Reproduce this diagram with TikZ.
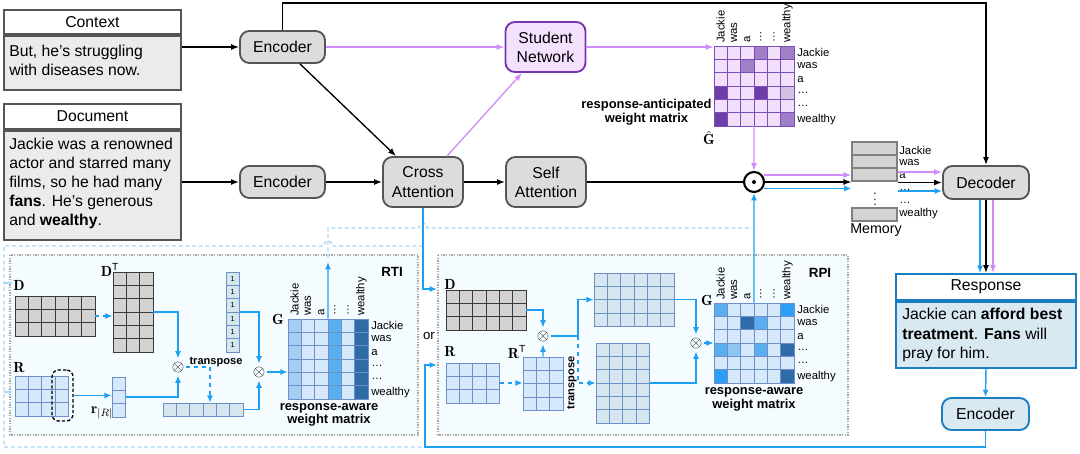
\documentclass[tikz,border=0pt]{standalone}
\usepackage{fontspec}
\setsansfont{Liberation Sans}
\renewcommand{\familydefault}{\sfdefault}
\usetikzlibrary{arrows.meta,calc,fit}
\definecolor{gfill}{HTML}{DCDCDC}
\definecolor{gline}{HTML}{555555}
\definecolor{bodyg}{HTML}{EBEBEB}
\definecolor{pline}{HTML}{D08CFA}
\definecolor{pfill}{HTML}{F3E1FD}
\definecolor{pdark}{HTML}{7437B0}
\definecolor{bline}{HTML}{1EA0F2}
\definecolor{bdash}{HTML}{A5D6F8}
\definecolor{rborder}{HTML}{1B7DC2}
\definecolor{rfill}{HTML}{D9E9F2}
\definecolor{boxbg}{HTML}{F5FCFF}
\definecolor{cellL}{HTML}{D5E9FB}
\definecolor{cellLd}{HTML}{6F8FC8}
\definecolor{cellBG}{HTML}{D6E6EF}
\definecolor{gcell}{HTML}{D3D3D3}
\definecolor{gcelld}{HTML}{3A3A3A}
\definecolor{memf}{HTML}{D4D4D4}
\definecolor{bM}{HTML}{5AAEF0}
\definecolor{bC}{HTML}{A3CDF2}
\definecolor{bD}{HTML}{2F6BA6}
\definecolor{bB}{HTML}{2B9FF5}
\definecolor{bMtwo}{HTML}{8DC6F2}
\definecolor{puL}{HTML}{F2DFFC}
\definecolor{puM}{HTML}{A07FC8}
\definecolor{puD}{HTML}{6C3EA6}
\definecolor{puG}{HTML}{D2C3E3}
\definecolor{puE}{HTML}{7A4DB8}
\def\cs{13.33}
\newcommand{\mat}[7]{%
  \foreach \ii in {1,...,#4}{\foreach \jj in {1,...,#5}{%
    \draw[#7] ({#2+(\ii-1)*\cs},{#3+(\jj-1)*#6}) rectangle ++(\cs,#6);}}%
  \coordinate (#1-a) at (#2,#3);%
  \coordinate (#1-b) at ({#2+#4*\cs},{#3+#5*#6});%
  \node[fit=(#1-a)(#1-b),inner sep=0pt] (#1) {};}
\newcommand{\cel}[5]{\draw[#5] ({#1+(#3-1)*\cs},{#2+(#4-1)*\cs}) rectangle ++(\cs,\cs);}
\begin{document}
\begin{tikzpicture}[x=0.75pt,y=-0.75pt,
  font=\fontsize{11.8}{14.4}\selectfont,
  gbox/.style={draw=gline,fill=gfill,line width=1.4pt,rounded corners=7pt,align=center,inner sep=0pt},
  hdr/.style={draw=gline,fill=white,line width=1.4pt,inner sep=0pt},
  bodyb/.style={draw=gline,fill=bodyg,line width=1.4pt,inner sep=0pt},
  txt/.style={anchor=west,align=left,inner sep=0pt},
  karrow/.style={draw=black,line width=1pt,-{Latex[length=6pt,width=4.5pt]}},
  parrow/.style={draw=pline,line width=1pt,-{Latex[length=6pt,width=4.5pt]}},
  barrow/.style={draw=bline,line width=1.1pt,-{Latex[length=5.5pt,width=4.5pt]}},
  dl/.style={draw=bdash,line width=1pt,dash pattern=on 3pt off 2pt},
  lbl/.style={font=\fontsize{8.5}{10}\selectfont,inner sep=0pt},
  bl/.style={font=\fontsize{9.7}{10.3}\selectfont\bfseries,inner sep=0pt,align=center},
  serif/.style={font=\fontsize{11}{13}\selectfont,inner sep=0pt},
  ot/.style={circle,inner sep=0pt,minimum size=9pt,font=\fontsize{13}{14}\selectfont},
  gc/.style={fill=gcell,draw=gcelld,line width=0.6pt},
  lc/.style={fill=cellL,draw=cellLd,line width=0.6pt},
  bc/.style={fill=cellBG,draw=cellLd,line width=0.6pt},
  pc/.style={fill=puL,draw=puE,line width=0.7pt},
  mcell/.style={draw=gray,fill=memf,minimum width=33.75pt,minimum height=9.75pt,inner sep=0pt,line width=0.8pt}
]
\useasboundingbox (0,0) rectangle (1080,453);

% containers
\path[draw=gray!70,fill=boxbg,line width=0.9pt,dash pattern=on 1pt off 1pt] (10,255) rectangle (418,435);
\path[draw=gray!70,fill=boxbg,line width=0.9pt,dash pattern=on 1pt off 1pt] (438,255) rectangle (848,435);
\node[bl,font=\fontsize{10}{12}\selectfont\bfseries] (rtit) at (392,272) {RTI};
\node[bl,font=\fontsize{10}{12}\selectfont\bfseries] (rpit) at (820,273) {RPI};

% dashed alternative routes
\draw[dl] (328,258) -- (328,228) -- (419,228) .. controls (419,221) and (427,221) .. (427,228) -- (752,228);
\draw[dl] (423,246) -- (332,246) .. controls (332,239) and (324,239) .. (324,246) -- (4,246) -- (4,447) -- (423,447);
\draw[dl,-{Latex[length=3.5pt,width=3pt]}] (4,283) -- (13,283);
\draw[dl,-{Latex[length=3.5pt,width=3pt]}] (4,392) -- (13,392);

% Context / Document
\node[hdr,minimum width=132.75pt,minimum height=18pt] (ctxh) at (92.5,22) {Context};
\node[bodyb,minimum width=132.75pt,minimum height=40.5pt,anchor=north] (ctxb) at (ctxh.south) {};
\node[txt] (ctxt) at (9,60.5) {But, he’s struggling\\with diseases now.};
\node[hdr,minimum width=132.75pt,minimum height=18.75pt] (doch) at (92.5,116.5) {Document};
\node[bodyb,minimum width=132.75pt,minimum height=81.75pt,anchor=north] (docb) at (doch.south) {};
\node[txt] (doct) at (9,183.5) {Jackie was a renowned\\actor and starred many\\films, so he had many\\\textbf{fans}. He’s generous\\and \textbf{wealthy}.};

% main nodes
\node[gbox,minimum width=63.75pt,minimum height=24pt] (enc1) at (282.5,47) {Encoder};
\node[gbox,minimum width=63.75pt,minimum height=24pt] (enc2) at (282.5,182) {Encoder};
\node[gbox,draw=pdark,fill=pfill,minimum width=60pt,minimum height=37.5pt] (student) at (545.5,47) {Student\\Network};
\node[gbox,minimum width=60pt,minimum height=37.5pt] (cross) at (423,182) {Cross\\Attention};
\node[gbox,minimum width=60pt,minimum height=37.5pt] (self) at (546,182) {Self\\Attention};
\node[gbox,minimum width=64.5pt,minimum height=24.75pt] (dec) at (986,182.5) {Decoder};
\node[circle,draw,line width=1.6pt,minimum size=15pt,inner sep=0pt] (odot) at (754,182) {};
\fill (odot.center) circle (1.5pt);

% Response
\node[hdr,draw=rborder,minimum width=135pt,minimum height=19.5pt] (resph) at (986,287) {Response};
\node[bodyb,draw=rborder,fill=rfill,minimum width=135pt,minimum height=49.5pt,anchor=north] (respb) at (resph.south) {};
\node[txt] (respt) at (902,335) {Jackie can \textbf{afford best}\\\textbf{treatment}. \textbf{Fans} will\\pray for him.};
\node[gbox,draw=rborder,fill=rfill,minimum width=65.25pt,minimum height=24pt] (enc3) at (985.5,414) {Encoder};

% Memory
\node[mcell] (m1) at (874.5,148.5) {};
\node[mcell] (m2) at (874.5,161.5) {};
\node[mcell] (m3) at (874.5,174.5) {};
\node[mcell] (m4) at (874.5,214.5) {};
\node[inner sep=0pt,font=\fontsize{9}{10}\selectfont] (mdots) at (875,195.5) {$\vdots$};
\node[inner sep=0pt,font=\fontsize{10.7}{12}\selectfont] (memt) at (876,230) {Memory};
\foreach \t/\yy in {Jackie/150,was/163,a/176,…/190,…/203,wealthy/214}
  \node[lbl,anchor=west] at (899,\yy) {\t};

% purple matrix G-hat
\mat{pG}{714}{46}{6}{6}{13.33}{pc}
\cel{714}{46}{4}{1}{pc,fill=puM}\cel{714}{46}{6}{1}{pc,fill=puM}
\cel{714}{46}{3}{2}{pc,fill=puM}
\cel{714}{46}{1}{4}{pc,fill=puD}\cel{714}{46}{4}{4}{pc,fill=puD}\cel{714}{46}{6}{4}{pc,fill=puG}
\cel{714}{46}{1}{6}{pc,fill=puD}\cel{714}{46}{6}{6}{pc,fill=puM}
\foreach \t [count=\k] in {Jackie,was,a,…,…,wealthy}{
  \node[lbl,rotate=90,anchor=west] at ({714+(\k-0.5)*\cs},43) {\t};
  \node[lbl,anchor=west] at (797,{46+(\k-0.5)*\cs}) {\t};}
\node[serif] (ghat) at (709,138) {$\hat{\mathbf{G}}$};
\node[bl] (pgt) at (646.5,112) {response-anticipated\\weight matrix};

% RTI matrices
\mat{rtiD}{15}{296}{6}{3}{13.33}{gc}
\mat{rtiDT}{113}{272}{3}{6}{13.33}{gc}
\mat{rtiR}{15}{376}{4}{3}{13.33}{lc}
\mat{rtir}{112}{377}{1}{3}{13.33}{lc}
\mat{ones}{226}{272}{1}{6}{13.33}{bc}
\foreach \k in {1,...,6} \node[font=\fontsize{5.5}{6}\selectfont,inner sep=0pt] at ({226+\cs/2},{272+(\k-0.5)*\cs}) {1};
\mat{rtirow}{163}{403}{6}{1}{13.33}{bc}
\mat{rtiG}{288}{319}{6}{6}{13.33}{lc}
\foreach \jj in {1,...,6}{\cel{288}{319}{1}{\jj}{lc,fill=bC}\cel{288}{319}{4}{\jj}{lc,fill=bM}\cel{288}{319}{6}{\jj}{lc,fill=bD}}
\foreach \t [count=\k] in {Jackie,was,a,…,…,wealthy}{
  \node[lbl,rotate=90,anchor=west] at ({288+(\k-0.5)*\cs},316) {\t};
  \node[lbl,anchor=west] at (371,{319+(\k-0.5)*\cs}) {\t};}
\node[draw,line width=1pt,dash pattern=on 2.5pt off 1.5pt,rounded corners=5pt,minimum width=15.75pt,minimum height=38.25pt,inner sep=0pt] (sel) at (62.5,395.5) {};
\node[serif] (lD1) at (19,285) {$\mathbf{D}$};
\node[serif] (lDT) at (110,270) {$\mathbf{D}^{\mathsf{T}}$};
\node[serif] (lR1) at (19,368) {$\mathbf{R}$};
\node[serif] (lr) at (102,413) {$\mathbf{r}_{|R|}$};
\node[serif] (lG1) at (278,319) {$\mathbf{G}$};
\node[bl] (rtiwm) at (329,415) {response-aware\\weight matrix};
\node[bl,font=\fontsize{8.3}{10}\selectfont\bfseries] (tr1) at (216,362) {transpose};
\node[ot] (ot1) at (178,367) {$\otimes$};
\node[ot] (ot2) at (259,372) {$\otimes$};
\coordinate (rtiup) at (328,262);

% RTI connectors
\draw[barrow,dashed] (rtiD.east) -- (rtiD.east -| rtiDT.west);
\draw[barrow] (rtiDT.east) -| (ot1.north);
\draw[barrow] (sel.east) -- (sel.east -| rtir.west);
\draw[barrow] (rtir.east) -| (ot1.south);
\draw[barrow,dashed] (ot1.east) -| ($(rtirow.north)+(7,0)$);
\draw[barrow] (ones.east) -| (ot2.north);
\draw[barrow] (rtirow.east) -| (ot2.south);
\draw[barrow] (ot2.east) -- (ot2.east -| rtiG.west);
\draw[barrow] (rtiG.north) -- (rtiup);

% RPI matrices
\mat{rpiD}{446}{290}{6}{3}{13.33}{gc}
\mat{rpiR}{446}{363}{4}{3}{13.33}{lc}
\mat{rpiRT}{523}{357}{3}{4}{13.33}{lc}
\mat{rpiU}{594}{273}{6}{4}{13.33}{bc}
\mat{rpiL}{596}{343}{4}{6}{13.33}{bc}
\mat{rpiG}{714}{303}{6}{6}{13.33}{lc}
\cel{714}{303}{1}{1}{lc,fill=bM}\cel{714}{303}{6}{1}{lc,fill=bB}
\cel{714}{303}{3}{2}{lc,fill=bD}\cel{714}{303}{4}{2}{lc,fill=bM}
\cel{714}{303}{1}{4}{lc,fill=bM}\cel{714}{303}{2}{4}{lc,fill=bMtwo}\cel{714}{303}{4}{4}{lc,fill=bM}\cel{714}{303}{6}{4}{lc,fill=bD}
\cel{714}{303}{1}{6}{lc,fill=bB}\cel{714}{303}{6}{6}{lc,fill=bD}
\foreach \t [count=\k] in {Jackie,was,a,…,…,wealthy}{
  \node[lbl,rotate=90,anchor=west] at ({714+(\k-0.5)*\cs},300) {\t};
  \node[lbl,anchor=west] at (797,{303+(\k-0.5)*\cs}) {\t};}
\node[serif] (lD2) at (450,284) {$\mathbf{D}$};
\node[serif] (lR2) at (450,352) {$\mathbf{R}$};
\node[serif] (lRT) at (517,352) {$\mathbf{R}^{\mathsf{T}}$};
\node[serif] (lG2) at (707,300) {$\mathbf{G}$};
\node[bl] (rpiwm) at (754,399.5) {response-aware\\weight matrix};
\node[bl,font=\fontsize{8.3}{10}\selectfont\bfseries,rotate=90] (tr2) at (572,383) {transpose};
\node[ot] (ot3) at (543,336) {$\otimes$};
\node[ot] (ot4) at (696,343) {$\otimes$};
\coordinate (split) at (578,336);
\node[inner sep=0pt,font=\fontsize{10}{12}\selectfont] (ortxt) at (429,336) {or};

% RPI connectors
\draw[barrow] (rpiD.east) -| (ot3.north);
\draw[barrow] (rpiRT.north) -- (ot3.south);
\draw[barrow,dashed] (rpiR.east) -- (rpiR.east -| rpiRT.west);
\draw[barrow] (ot3.east) -- (split) |- (rpiU.west);
\draw[barrow,dashed] (split) |- (rpiL.west);
\draw[barrow] (rpiU.east) -| (ot4.north);
\draw[barrow] (rpiL.east) -| (ot4.south);
\draw[barrow] (ot4.east) -- (ot4.east -| rpiG.west);
\draw[barrow] (rpiG.north) -- (odot.south);

% main connectors
\draw[karrow] (enc1.west -| ctxb.east) -- (enc1.west);
\draw[karrow] (enc2.west -| docb.east) -- (enc2.west);
\draw[karrow] (enc2.east) -- (cross.west);
\draw[karrow] (cross.east) -- (self.west);
\draw[karrow] ($(enc1.south)+(17.5,0)$) -- ($(cross.north)+(-27,0)$);
\draw[parrow] (enc1.east) -- (student.west);
\draw[parrow] ($(cross.north)+(24,0)$) -- ($(student.south)+(-23.5,0)$);
\draw[parrow] (student.east) -- (student.east -| pG.west);
\draw[parrow] (pG.south) -- (odot.north);
\draw[line width=1pt] (self.east) -- (odot.west);
\coordinate (topc) at (986,3);
\draw[karrow] (enc1.north) |- (topc) -- (dec.north);

\coordinate (op) at ($(odot.east)+(-1,-7)$);
\coordinate (ob) at ($(odot.east)+(-1,6.5)$);
\draw[parrow] (op) -- (op -| m3.west);
\draw[karrow] (odot.east) -- (odot.east -| m3.west);
\draw[barrow] (ob) -- (ob -| m3.west);

\coordinate (mp) at ($(dec.west)+(0,-10.5)$);
\coordinate (mb) at ($(dec.west)+(0,8.5)$);
\draw[parrow] (mp -| m3.east) -- (mp);
\draw[karrow] (dec.west -| m3.east) -- (dec.west);
\draw[barrow] (mb -| m3.east) -- (mb);

\coordinate (db) at ($(dec.south)+(-6,0)$);
\coordinate (dp) at ($(dec.south)+(7,0)$);
\draw[barrow] (db) -- (db |- resph.north);
\draw[karrow] (dec.south) -- (resph.north);
\draw[parrow] (dp) -- (dp |- resph.north);
\draw[barrow] (respb.south) -- (enc3.north);

\coordinate (rpiin1) at (437,289);
\draw[barrow] (cross.south) |- (rpiin1);
\coordinate (bl) at (425,447);
\coordinate (rpiin2) at (437,365);
\draw[barrow] (enc3.south) |- (bl) |- (rpiin2);
\end{tikzpicture}
\end{document}
